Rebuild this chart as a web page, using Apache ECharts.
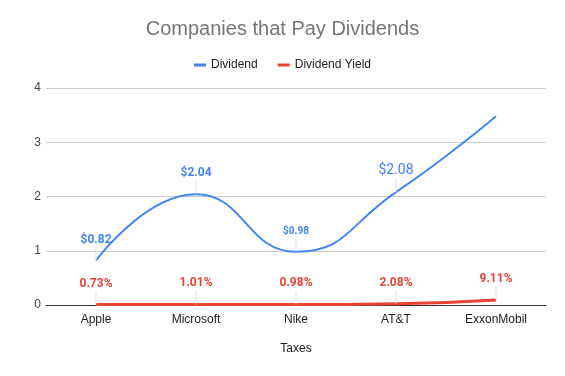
<!DOCTYPE html>
<html>
<head>
<meta charset="utf-8">
<script src="https://cdn.jsdelivr.net/npm/echarts@6/dist/echarts.min.js"></script>
<style>
  html, body { margin: 0; padding: 0; background: #fff; }
  #main { width: 565px; height: 376px; }
</style>
</head>
<body>
<div id="main"></div>
<script>
const categories = ['Apple', 'Microsoft', 'Nike', 'AT&T', 'ExxonMobil']
const dividend = [0.82, 2.04, 0.98, 2.08, 3.48]
const dividendLabels = ['$0.82', '$2.04', '$0.98', '$2.08', '']
const dividendYield = [0.0073, 0.0101, 0.0098, 0.0208, 0.0911]
const yieldLabels = ['0.73%', '1.01%', '0.98%', '2.08%', '9.11%']
const yTicks = [0, 1, 2, 3, 4]

// Google Sheets used different sizes for some labels
const dividendLabelStyle = [
  { fontSize: 12, fontWeight: 'bold' },
  { fontSize: 12, fontWeight: 'bold' },
  { fontSize: 10, fontWeight: 'bold' },
  { fontSize: 14, fontWeight: 'normal' },
  { fontSize: 12, fontWeight: 'bold' }
]

var myChart = echarts.init(document.getElementById('main'))

// label text with a thin leader line under it
var makeLabel = function (text, color, size, weight) {
  return {
    show: text !== '',
    position: 'top',
    distance: 0,
    formatter: '{v|' + text + '}\n{ln|}',
    rich: {
      v: { color: color, fontSize: size, fontWeight: weight, fontFamily: 'Roboto, Arial, sans-serif', lineHeight: size + 2 },
      ln: { width: 1, height: 14, backgroundColor: '#dedede' }
    }
  }
}

var option = {
  animation: false,
  textStyle: { fontFamily: 'Roboto, Arial, sans-serif' },
  title: {
    text: 'Companies that Pay Dividends',
    left: 'center',
    top: 14,
    textStyle: { fontSize: 20, fontWeight: 'normal', color: '#757575', fontFamily: 'Arial, Liberation Sans, sans-serif' }
  },
  legend: {
    top: 54,
    left: 'center',
    itemGap: 20,
    itemWidth: 12,
    itemHeight: 3,
    icon: 'rect',
    textStyle: { fontSize: 12, color: '#222', fontFamily: 'Arial, Liberation Sans, sans-serif' },
    data: [
      { name: 'Dividend', itemStyle: { color: '#4285f4', opacity: 1 } },
      { name: 'Dividend Yield', itemStyle: { color: '#ea4335', opacity: 1 } }
    ]
  },
  grid: { left: 46, right: 19, top: 88, bottom: 71, containLabel: false },
  xAxis: {
    type: 'category',
    data: categories,
    boundaryGap: true,
    name: 'Taxes',
    nameLocation: 'middle',
    nameGap: 38,
    nameTextStyle: { fontSize: 12, color: '#222', fontFamily: 'Arial, Liberation Sans, sans-serif' },
    axisLine: { lineStyle: { color: '#333', width: 1 } },
    axisTick: { show: false },
    axisLabel: { fontSize: 12, color: '#222', margin: 9, fontFamily: 'Arial, Liberation Sans, sans-serif' }
  },
  yAxis: {
    type: 'value',
    min: yTicks[0],
    max: yTicks[yTicks.length - 1],
    interval: 1,
    axisLine: { show: false },
    axisTick: { show: false },
    splitLine: { lineStyle: { color: '#cccccc', width: 1 } },
    axisLabel: { fontSize: 12, color: '#444', margin: 5, fontFamily: 'Arial, Liberation Sans, sans-serif' }
  },
  series: [
    {
      name: 'Dividend',
      type: 'line',
      smooth: 0.5,
      showSymbol: true,
      symbol: 'circle',
      symbolSize: 0,
      color: '#4285f4',
      lineStyle: { width: 2, color: '#4285f4' },
      z: 3,
      data: dividend.map(function (v, i) {
        return {
          value: v,
          label: makeLabel(dividendLabels[i], '#4285f4', dividendLabelStyle[i].fontSize, dividendLabelStyle[i].fontWeight)
        }
      })
    },
    {
      name: 'Dividend Yield',
      type: 'line',
      smooth: 0.5,
      showSymbol: true,
      symbol: 'circle',
      symbolSize: 0,
      color: '#ea4335',
      lineStyle: { width: 3, color: '#ea4335' },
      z: 3,
      data: dividendYield.map(function (v, i) {
        return { value: v, label: makeLabel(yieldLabels[i], '#ea4335', 12, 'bold') }
      })
    }
  ]
}
myChart.setOption(option)
</script>
</body>
</html>
